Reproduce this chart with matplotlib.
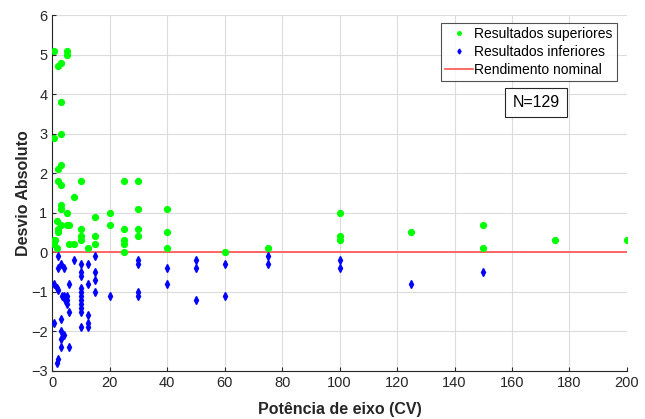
import matplotlib
matplotlib.use("Agg")
import matplotlib.pyplot as plt

# ── Data ──────────────────────────────────────────────────────────────────────
sup_x = [0.75, 5, 5, 2, 3, 3, 3, 0.75, 2, 3, 2, 3, 10, 25, 30, 7.5, 3, 3, 5, 20,
         15, 1.5, 3, 5, 6, 20, 2, 10, 25, 2, 10, 15, 10, 1, 0.75, 6, 7.5, 15, 25, 25,
         0.75, 1.5, 12.5, 25, 30, 30, 30, 40, 40, 40, 60, 75, 100, 100, 100, 125,
         150, 150, 175, 200]
sup_y = [5.1, 5.1, 5.0, 4.7, 4.8, 3.8, 3.0, 2.9, 2.1, 2.2, 1.8, 1.7, 1.8, 1.8, 1.8,
         1.4, 1.2, 1.1, 1.0, 1.0, 0.9, 0.8, 0.7, 0.7, 0.7, 0.7, 0.6, 0.6, 0.6, 0.5,
         0.4, 0.4, 0.3, 0.3, 0.3, 0.2, 0.2, 0.2, 0.3, 0.2, 0.2, 0.1, 0.1, 0.0, 1.1,
         0.6, 0.4, 1.1, 0.5, 0.1, 0.0, 0.1, 1.0, 0.4, 0.3, 0.5, 0.7, 0.1, 0.3, 0.3]

inf_x = [2, 7.5, 15, 2, 3, 4, 10, 10, 10, 12.5, 15, 15, 15, 0.75, 1.5, 6, 12.5,
         10, 10, 10, 10, 10, 10, 10, 3.5, 4, 5, 4.5, 5, 5, 6, 20, 30, 30, 30, 30,
         0.75, 3, 3, 4, 3, 3, 6, 12.5, 12.5, 12.5, 10, 2, 1.5, 40, 40, 50, 50, 50,
         60, 60, 75, 75, 100, 100, 125, 150, 2]
inf_y = [-0.1, -0.2, -0.1, -0.4, -0.3, -0.4, -0.3, -0.5, -0.6, -0.3, -0.5, -0.7,
         -1.0, -0.8, -0.9, -0.8, -0.8, -0.9, -1.0, -1.1, -1.2, -1.3, -1.4, -1.5,
         -1.1, -1.1, -1.1, -1.2, -1.3, -1.2, -1.5, -1.1, -0.2, -0.3, -1.0, -1.1,
         -1.8, -1.7, -2.0, -2.1, -2.2, -2.4, -2.4, -1.6, -1.8, -1.9, -1.9, -2.7,
         -2.8, -0.4, -0.8, -0.2, -0.4, -1.2, -0.3, -1.1, -0.1, -0.3, -0.2, -0.4,
         -0.8, -0.5, -0.95]

nominal_x = [0, 200]
nominal_y = [0, 0]
n_total = 129

plt.rcParams["font.family"] = ["Liberation Sans", "DejaVu Sans"]

fig = plt.figure(figsize=(6.45, 4.19), dpi=100)
ax = fig.add_axes([0.081, 0.115, 0.891, 0.849])

ax.plot(sup_x, sup_y, linestyle="none", marker="o", markersize=4.2,
        color="#00ff00", label="Resultados superiores", zorder=3)
ax.plot(inf_x, inf_y, linestyle="none", marker="d", markersize=4.2,
        color="#0000ff", label="Resultados inferiores", zorder=3)
ax.plot(nominal_x, nominal_y, color="#ff5050", linewidth=1.2,
        label="Rendimento nominal", zorder=2)

ax.set_xlim(0, 200)
ax.set_ylim(-3, 6)
ax.set_xticks(range(0, 201, 20))
ax.set_yticks(range(-3, 7))
ax.grid(True, color="#dcdcdc", linewidth=0.8)
ax.set_axisbelow(True)
ax.tick_params(direction="in", labelsize=10.5, colors="#262626", length=3)
for side in ("top", "right"):
    ax.spines[side].set_visible(False)
for side in ("left", "bottom"):
    ax.spines[side].set_color("#262626")
    ax.spines[side].set_linewidth(0.8)

ax.set_xlabel("Potência de eixo (CV)", fontsize=11.5, fontweight="bold",
              color="#262626", labelpad=9)
ax.set_ylabel("Desvio Absoluto", fontsize=11.5, fontweight="bold",
              color="#262626", labelpad=0)

leg = ax.legend(loc="upper right", bbox_to_anchor=(0.99, 0.99), fontsize=10,
                frameon=True, fancybox=False, edgecolor="#262626",
                borderpad=0.3, labelspacing=0.3, handlelength=2.0,
                handletextpad=0.1, borderaxespad=0.3, markerscale=0.6)
leg.get_frame().set_linewidth(0.8)

ax.text(0.842, 0.755, f"N={n_total}", transform=ax.transAxes, fontsize=11.5,
        ha="center", va="center",
        bbox=dict(boxstyle="square,pad=0.45", facecolor="white",
                  edgecolor="#262626", linewidth=0.8))

fig.savefig("out.png", dpi=100)
